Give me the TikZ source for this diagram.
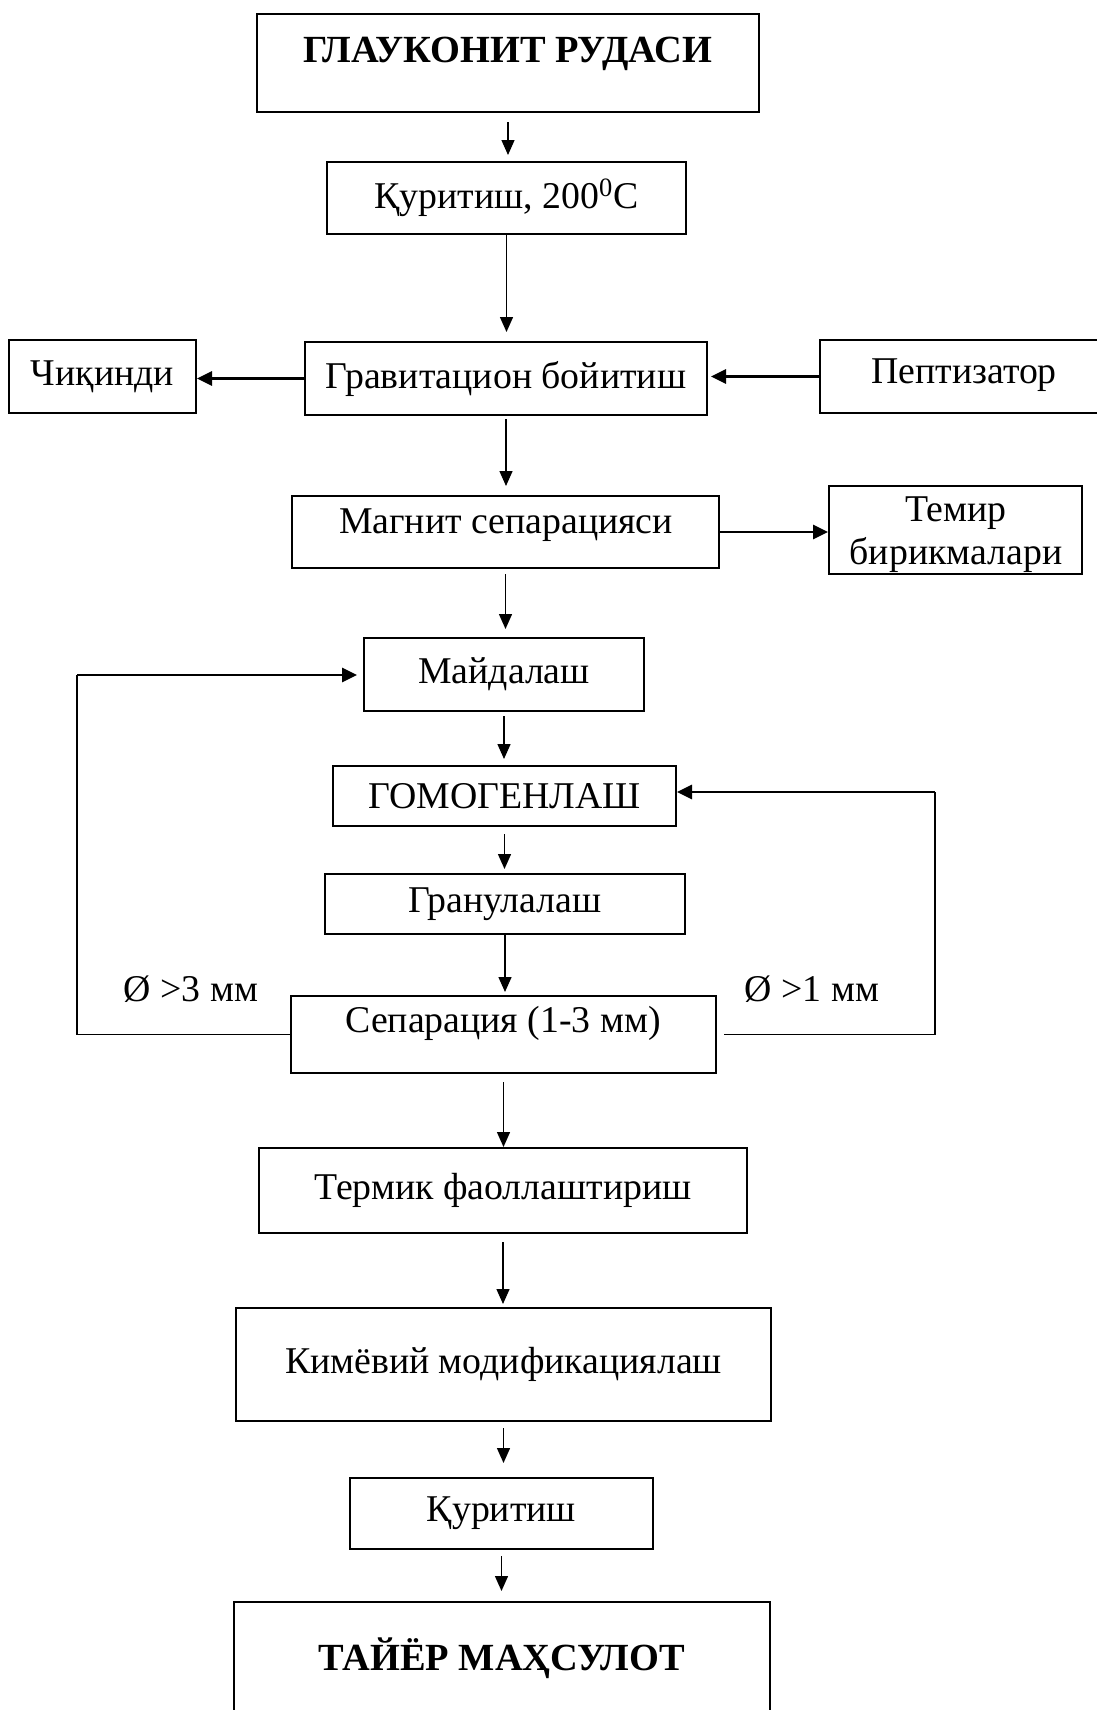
\documentclass[tikz,border=0pt]{standalone}
\usepackage{fontspec}
\setmainfont{Liberation Serif}
\usetikzlibrary{arrows.meta,calc}
\newcommand\bx[6]{\node[box, minimum width={(#4-#2)*0.5pt}, minimum height={(#5-#3)*0.5pt}] (#1) at ({(#2+#4)/2},{(#3+#5)/2}) {#6};}
\begin{document}
\begin{tikzpicture}[x=0.5pt,y=-0.5pt,
  box/.style={draw, line width=1pt, inner sep=0pt, align=center, font=\fontsize{18.9}{21.5}\selectfont},
  txt/.style={inner sep=0pt, anchor=base, font=\fontsize{18.9}{21.5}\selectfont},
  btxt/.style={txt, font=\fontsize{19.2}{21.5}\selectfont\bfseries},
  lbl/.style={inner sep=0pt, font=\fontsize{18.9}{21.5}\selectfont},
  varr/.style={line width=0.7pt, -{Triangle[length=7.5pt,width=6.5pt]}},
  harr/.style={line width=1.4pt, -{Triangle[length=7.5pt,width=7pt]}},
  loopl/.style={line width=0.8pt}]
\useasboundingbox (0,0) rectangle (1097,1710);
\bx{b1}{257}{14}{759}{112}{}
\node[btxt] (t1) at (508,62) {ГЛАУКОНИТ РУДАСИ};
\bx{b2}{327}{162}{686}{234}{Қуритиш, 200\textsuperscript{0}C}
\bx{grav}{305}{342}{707}{415}{Гравитацион бойитиш}
\bx{chiq}{9}{340}{196}{413}{Чиқинди}
\bx{pept}{820}{340}{1104}{413}{}
\node[txt] (tp) at (964,383) {Пептизатор};
\bx{mag}{292}{496}{719}{568}{}
\node[txt] (tm) at (506,533) {Магнит сепарацияси};
\bx{temir}{829}{486}{1082}{574}{}
\node[txt] (te1) at (956,521) {Темир};
\node[txt] (te2) at (956,564) {бирикмалари};
\bx{may}{364}{638}{644}{711}{Майдалаш}
\bx{gom}{333}{766}{676}{826}{ГОМОГЕНЛАШ}
\bx{gran}{325}{874}{685}{934}{Гранулалаш}
\bx{sep}{291}{996}{716}{1073}{}
\node[txt] (ts) at (503,1032) {Сепарация (1-3 мм)};
\bx{ter}{259}{1148}{747}{1233}{Термик фаоллаштириш}
\bx{kim}{236}{1308}{771}{1421}{Кимёвий модификациялаш}
\bx{qur}{350}{1478}{653}{1549}{Қуритиш}
\bx{tay}{234}{1602}{770}{1716}{}
\node[btxt] (tt) at (502,1670) {ТАЙЁР МАҲСУЛОТ};
\node[lbl] (l3) at (191,989) {Ø >3 мм};
\node[lbl] (l1) at (812,989) {Ø >1 мм};
% vertical arrows
\draw[varr, shorten <=4.5pt, shorten >=3pt] (b1.south) -- (b1.south |- b2.north);
\draw[varr, shorten >=4.5pt] (b2.south) -- (b2.south |- grav.north);
\draw[varr, shorten <=1.5pt, shorten >=4.5pt] (grav.south) -- (grav.south |- mag.north);
\draw[varr, shorten <=2.5pt, shorten >=4pt] (mag.south) -- (mag.south |- may.north);
\draw[varr, shorten <=2pt, shorten >=3pt] (may.south) -- (may.south |- gom.north);
\draw[varr, shorten <=3.5pt, shorten >=2pt] (gom.south) -- (gom.south |- gran.north);
\draw[varr, shorten >=1.5pt] (gran.south) -- (gran.south |- sep.north);
\draw[varr, shorten <=4pt] (sep.south) -- (sep.south |- ter.north);
\draw[varr, shorten <=4pt, shorten >=1.5pt] (ter.south) -- (ter.south |- kim.north);
\draw[varr, shorten <=3pt, shorten >=7pt] (kim.south) -- (kim.south |- qur.north);
\draw[varr, shorten <=3pt, shorten >=5pt] (qur.south) -- (qur.south |- tay.north);
% horizontal arrows
\draw[harr] (grav.west) -- (grav.west -| chiq.east);
\draw[harr, shorten >=1.5pt] (pept.west) -- (pept.west -| grav.east);
\draw[harr] (mag.east) -- (mag.east -| temir.west);
% loops
\coordinate (lc) at (77,675);
\draw[loopl] (sep.west) -| (lc);
\draw[harr, shorten >=3pt] (lc) -- (lc -| may.west);
\coordinate (rc) at (935,792);
\draw[loopl] ([xshift=3.5pt]sep.east) -| (rc);
\draw[harr] (rc) -- (rc -| gom.east);
\end{tikzpicture}
\end{document}
